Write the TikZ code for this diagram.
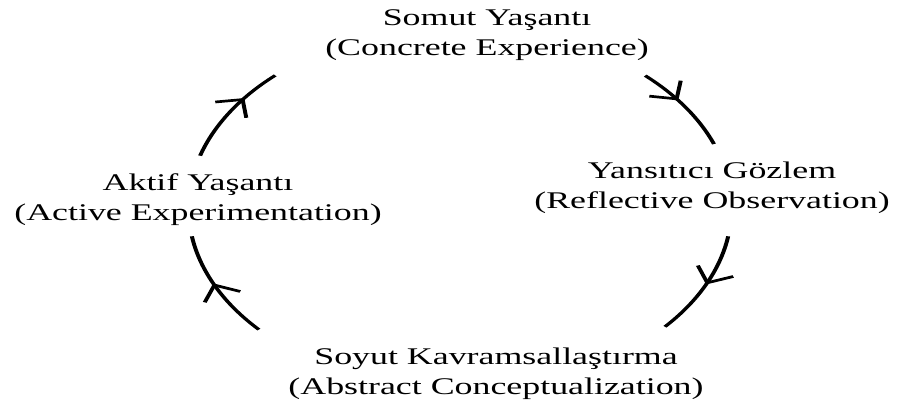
\documentclass[tikz,border=0pt]{standalone}
\usepackage{fontspec}
\setmainfont{Liberation Serif}
\usetikzlibrary{arrows.meta,decorations.markings}
\tikzset{
	stage/.style={align=center, font=\fontsize{17}{21.3}\selectfont},
	cyclearc/.style={line width=1.9pt, decoration={markings,
		mark=at position #1 with {\arrow{Straight Barb[angle=90:0.46cm]}}},
		postaction={decorate}}
}
\begin{document}
\begin{tikzpicture}
	\useasboundingbox (0,0) rectangle (22.575,10.075);
	\begin{scope}[transform canvas={xscale=1.5}]
	\coordinate (c) at (7.667,4.875);
	\node[stage] (ce) at (8.117,9.2) {Somut Yaşantı\\(Concrete Experience)};
	\node[stage] (ro) at (11.867,5.375) {Yansıtıcı Gözlem\\(Reflective Observation)};
	\node[stage] (ac) at (8.267,0.72) {Soyut Kavramsallaştırma\\(Abstract Conceptualization)};
	\node[stage] (ae) at (3.3,5.075) {Aktif Yaşantı\\(Active Experimentation)};
	% cycle, clockwise
	\draw[cyclearc=0.4] ([shift={(47:4.525)}]c) arc[start angle=47, end angle=20.7, radius=4.525];
	\draw[cyclearc=0.5] ([shift={(-9:4.525)}]c) arc[start angle=-9, end angle=-41, radius=4.525];
	\draw[cyclearc=0.53] ([shift={(222.2:4.525)}]c) arc[start angle=222.2, end angle=189, radius=4.525];
	\draw[cyclearc=0.68] ([shift={(163.2:4.525)}]c) arc[start angle=163.2, end angle=132.9, radius=4.525];
	\end{scope}
\end{tikzpicture}
\end{document}
